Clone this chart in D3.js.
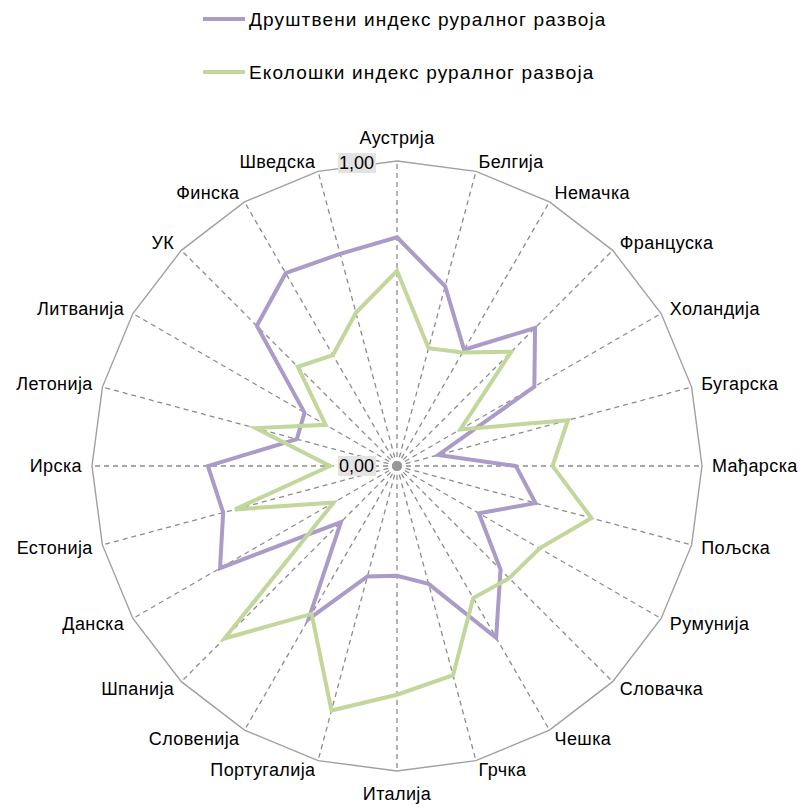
<!DOCTYPE html>
<html>
<head>
<meta charset="utf-8">
<script src="https://cdn.jsdelivr.net/npm/d3@7"></script>
<style>
  body { margin: 0; background: #fff; }
  svg { font-family: "Liberation Sans", Arial, sans-serif; }
</style>
</head>
<body>
<div id="chart"></div>
<script>
'use strict'

// categories, clockwise from the top
let countries = ["Аустрија", "Белгија", "Немачка", "Француска", "Холандија", "Бугарска",
  "Мађарска", "Пољска", "Румунија", "Словачка", "Чешка", "Грчка",
  "Италија", "Португалија", "Словенија", "Шпанија", "Данска", "Естонија",
  "Ирска", "Летонија", "Литванија", "УК", "Финска", "Шведска"]

let socialIndex = [0.75, 0.61, 0.44, 0.64, 0.52, 0.14,
  0.39, 0.47, 0.31, 0.48, 0.65, 0.40,
  0.36, 0.375, 0.58, 0.26, 0.67, 0.59,
  0.62, 0.34, 0.35, 0.65, 0.73, 0.72]

let ecoIndex = [0.64, 0.40, 0.43, 0.53, 0.24, 0.58,
  0.51, 0.66, 0.54, 0.52, 0.50, 0.71,
  0.75, 0.83, 0.56, 0.80, 0.24, 0.55,
  0.22, 0.48, 0.27, 0.46, 0.42, 0.52]

let seriesNames = ["Друштвени индекс руралног развоја", "Еколошки индекс руралног развоја"]
let tickLabels = ["0,00", "1,00"]

let width = 801
let height = 807
let cx = 397
let cy = 466
let R = 305
let customColors = ["#ab9bc8", "#c3d69b"]

let rscale = d3.scaleLinear().domain([0, 1]).range([0, R])
let angle = d3.scaleLinear().domain([0, countries.length]).range([0, 2 * Math.PI])

function px(i, v) { return cx + rscale(v) * Math.sin(angle(i)) }
function py(i, v) { return cy - rscale(v) * Math.cos(angle(i)) }

let svg = d3.select("#chart").append("svg")
  .attr("width", width)
  .attr("height", height)

// outer frame
svg.append("polygon")
  .attr("points", countries.map((d, i) => px(i, 1) + "," + py(i, 1)).join(" "))
  .style("fill", "none")
  .style("stroke", "#a0a0a0")
  .style("stroke-width", 1.4)

// spokes
svg.selectAll(".spoke")
  .data(countries)
  .enter()
  .append("line")
  .attr("class", "spoke")
  .attr("x1", cx)
  .attr("y1", cy)
  .attr("x2", (d, i) => px(i, 0.99))
  .attr("y2", (d, i) => py(i, 0.99))
  .style("stroke", "#8c8c8c")
  .style("stroke-width", 1.3)
  .style("stroke-dasharray", "5,4")

svg.append("circle")
  .attr("cx", cx)
  .attr("cy", cy)
  .attr("r", 5)
  .style("fill", "#999")

// category labels
svg.selectAll(".cat")
  .data(countries)
  .enter()
  .append("text")
  .attr("class", "cat")
  .attr("x", (d, i) => cx + (R + 10) * Math.sin(angle(i)))
  .attr("y", (d, i) => {
    let s = Math.sin(angle(i)), c = Math.cos(angle(i))
    let extra = Math.abs(s) < 0.01 ? -c * 13 : 0
    return cy - (R + 10) * c + extra
  })
  .attr("text-anchor", (d, i) => {
    let s = Math.sin(angle(i))
    if (Math.abs(s) < 0.01) return "middle"
    return s > 0 ? "start" : "end"
  })
  .attr("dominant-baseline", "central")
  .style("font-size", "18px")
  .style("letter-spacing", "0.4px")
  .style("fill", "#000")
  .text(d => d)

// tick labels with grey box
let ticks = svg.selectAll(".tick")
  .data([0, 1])
  .enter()
  .append("g")
  .attr("class", "tick")
  .attr("transform", d => "translate(" + (cx - 21) + "," + (cy - rscale(d) + (d === 1 ? 2 : 0)) + ")")

ticks.append("rect")
  .attr("x", -38)
  .attr("y", -10)
  .attr("width", 38)
  .attr("height", 20)
  .style("fill", "#e3e3e3")

ticks.append("text")
  .attr("x", -2)
  .attr("y", 0)
  .attr("text-anchor", "end")
  .attr("dominant-baseline", "central")
  .style("font-size", "18px")
  .text((d, i) => tickLabels[i])

// series lines
let line = d3.line()
  .x(d => px(d.i, d.v))
  .y(d => py(d.i, d.v))
  .curve(d3.curveLinearClosed)

let series = [socialIndex, ecoIndex]
series.forEach((vals, s) => {
  svg.append("path")
    .datum(vals.map((v, i) => ({ i: i, v: v })))
    .attr("d", line)
    .style("fill", "none")
    .style("stroke", customColors[s])
    .style("stroke-width", 4)
    .style("stroke-linejoin", "miter")
})

// legend
let legend = svg.selectAll(".legend")
  .data(seriesNames)
  .enter()
  .append("g")
  .attr("class", "legend")
  .attr("transform", (d, i) => "translate(203," + (19 + i * 53) + ")")

legend.append("line")
  .attr("x1", 0)
  .attr("x2", 42)
  .style("stroke", (d, i) => customColors[i])
  .style("stroke-width", 4)

legend.append("text")
  .attr("x", 46)
  .attr("y", 0)
  .attr("dominant-baseline", "central")
  .style("font-size", "19px")
  .style("letter-spacing", "1.15px")
  .text(d => d)
</script>
</body>
</html>
